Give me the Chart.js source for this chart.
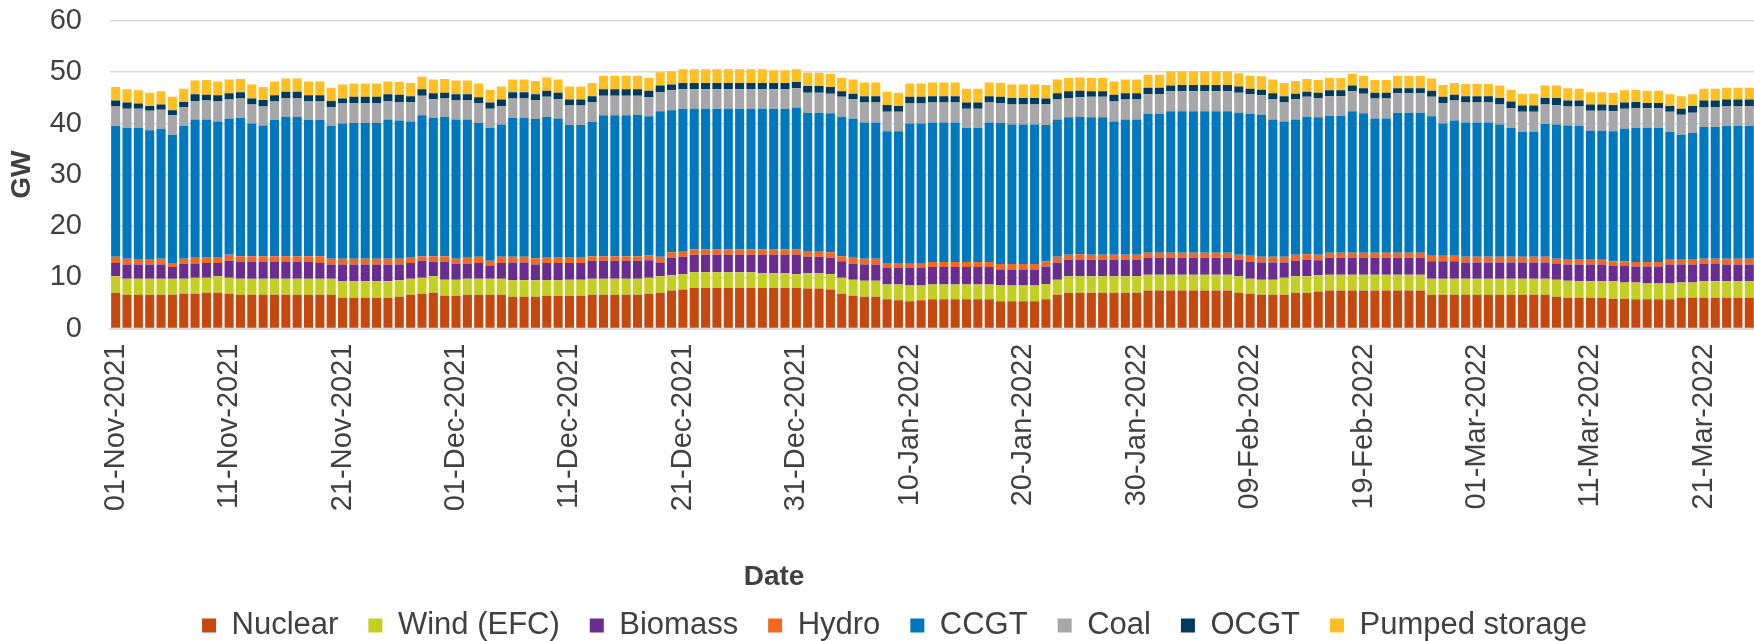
<!DOCTYPE html>
<html>
<head>
<meta charset="utf-8">
<script src="https://cdn.jsdelivr.net/npm/chart.js@4.4.1/dist/chart.umd.min.js"></script>
<style>
  html, body { margin: 0; padding: 0; overflow: hidden; background: #fff; }
  #wrap { position: absolute; left: 0; top: 0; width: 1789px; height: 651px; }
</style>
</head>
<body>
<div id="wrap"><canvas id="genChart" width="1789" height="651"></canvas></div>
<script>
// daily average generation by fuel, GW, 01-Nov-2021 to 25-Mar-2022
var firstDay = '2021-11-01'
var dayCount = 148 // axis runs a few days past the last visible bar

var nuclear = [
	7.0,6.6,6.6,6.6,6.6,6.6,6.8,6.8,7.0,7.0,
	6.8,6.6,6.6,6.6,6.6,6.6,6.6,6.6,6.6,6.6,
	6.0,6.0,6.0,6.0,6.0,6.2,6.6,6.8,7.0,6.4,
	6.4,6.6,6.6,6.6,6.6,6.2,6.2,6.2,6.4,6.4,
	6.4,6.4,6.6,6.6,6.6,6.6,6.6,6.8,7.0,7.4,
	7.6,7.9,7.9,7.9,7.9,7.9,7.9,7.9,7.9,7.9,
	7.9,7.8,7.8,7.6,6.8,6.4,6.2,6.2,5.7,5.5,
	5.3,5.5,5.7,5.7,5.7,5.7,5.7,5.7,5.3,5.3,
	5.3,5.3,5.7,6.6,7.0,7.0,7.0,7.0,7.0,7.0,
	7.0,7.4,7.4,7.4,7.4,7.4,7.4,7.4,7.4,7.0,
	6.8,6.6,6.6,6.6,7.0,7.0,7.2,7.4,7.4,7.4,
	7.4,7.4,7.4,7.4,7.4,7.4,6.6,6.6,6.6,6.6,
	6.6,6.6,6.6,6.6,6.6,6.6,6.6,6.2,6.0,6.0,
	6.0,6.0,5.8,5.8,5.7,5.7,5.7,5.7,6.0,6.0,
	6.0,6.0,6.0,6.0,6.0]
var wind = [
	3.2,3.1,3.1,3.1,3.1,3.1,2.9,3.1,2.9,3.2,
	3.1,3.1,3.1,3.1,3.1,3.1,3.1,3.1,3.1,3.1,
	3.2,3.2,3.2,3.2,3.2,3.2,3.1,3.1,3.2,3.1,
	3.1,3.1,3.1,3.1,3.1,3.2,3.2,3.2,3.0,3.0,
	3.1,3.1,3.1,3.1,3.1,3.1,3.1,3.1,3.2,3.0,
	3.0,3.1,3.1,3.1,3.1,3.1,3.1,2.9,2.9,2.9,
	2.7,3.0,3.0,3.0,3.1,3.1,3.1,3.1,2.9,3.1,
	3.1,2.9,2.9,2.9,2.9,2.9,2.9,2.9,3.1,3.1,
	3.1,3.1,3.0,2.9,3.2,3.2,3.2,3.2,3.2,3.2,
	3.2,3.1,3.1,3.1,3.1,3.1,3.1,3.1,3.1,3.2,
	2.9,2.9,2.9,3.3,3.2,3.2,3.2,3.1,3.1,3.1,
	3.1,3.1,3.1,3.1,3.1,3.1,3.1,3.1,3.1,3.1,
	3.1,3.1,3.1,3.1,3.1,3.1,3.1,3.3,3.3,3.2,
	3.2,3.2,3.4,3.2,3.3,3.1,3.1,3.1,3.0,3.0,
	3.2,3.2,3.2,3.2,3.2]
var biomass = [
	2.6,2.8,2.8,2.8,2.8,2.3,2.9,2.8,2.9,2.6,
	3.3,3.3,3.3,3.3,3.3,3.3,3.3,3.3,3.1,2.8,
	3.3,3.3,3.3,3.3,3.3,3.1,3.1,3.3,2.8,3.5,
	3.1,2.9,3.1,2.6,3.1,3.5,3.5,3.1,3.4,3.4,
	3.3,3.3,3.5,3.5,3.5,3.5,3.5,3.4,2.7,3.4,
	3.4,3.4,3.4,3.4,3.4,3.4,3.4,3.6,3.6,3.6,
	3.8,3.2,3.2,3.2,3.2,3.1,3.2,3.2,3.3,3.2,
	3.4,3.5,3.4,3.4,3.4,3.4,3.4,3.4,3.1,3.1,
	3.1,3.1,3.4,3.4,3.2,3.2,3.2,3.2,3.2,3.2,
	3.2,3.3,3.3,3.3,3.3,3.3,3.3,3.3,3.3,3.2,
	3.3,3.4,3.4,3.0,3.0,3.2,2.9,3.3,3.3,3.3,
	3.3,3.3,3.3,3.3,3.3,3.3,3.4,3.4,3.4,3.2,
	3.2,3.2,3.2,3.2,3.2,3.2,3.2,3.2,3.2,3.3,
	3.3,3.3,3.1,3.3,3.1,3.3,3.3,3.7,3.5,3.5,
	3.4,3.5,3.3,3.3,3.3]
var hydro = [
	1.2,1.1,0.9,0.9,1.1,0.8,1.0,1.1,1.0,1.0,
	1.2,1.1,1.1,1.1,1.1,1.1,1.1,1.1,1.3,1.1,
	1.1,1.1,1.1,1.1,1.1,1.1,1.0,0.9,1.1,1.1,
	1.0,1.2,1.2,0.9,1.2,1.1,1.1,1.2,1.0,1.0,
	1.0,1.0,0.9,0.9,0.9,0.9,0.9,1.0,1.1,1.1,
	1.0,1.0,1.0,1.0,1.0,1.0,1.0,1.0,1.0,1.0,
	1.0,1.0,1.0,1.1,1.0,1.2,1.1,1.1,0.9,1.0,
	1.0,0.9,1.0,1.0,1.0,1.0,1.0,1.0,1.1,1.1,
	1.1,1.1,1.0,1.1,1.0,1.1,1.0,1.0,1.0,1.0,
	1.0,1.0,1.0,1.0,1.0,1.0,1.0,1.0,1.0,1.0,
	1.2,1.1,1.1,1.1,1.2,1.1,1.1,1.0,1.0,1.0,
	1.0,1.0,1.0,1.0,1.0,1.0,1.1,1.1,1.1,1.1,
	1.1,1.1,1.1,1.1,1.1,1.1,1.1,0.9,0.9,0.9,
	0.9,0.9,0.8,0.8,0.9,0.9,0.9,0.9,0.9,0.9,
	1.0,0.9,1.1,1.1,1.1]
var ccgt = [
	25.5,25.5,25.7,25.3,25.4,25.0,25.9,27.0,27.0,26.6,
	26.6,27.0,25.9,25.5,26.6,27.2,27.2,26.6,26.6,25.9,
	26.4,26.5,26.5,26.5,27.2,27.0,26.6,27.5,27.0,27.2,
	27.2,27.0,26.1,25.9,25.8,27.1,27.1,27.2,27.5,27.2,
	25.9,25.9,26.2,27.5,27.5,27.5,27.6,27.1,28.4,27.7,
	27.9,27.5,27.5,27.5,27.5,27.5,27.5,27.5,27.5,27.5,
	27.7,27.1,27.1,27.1,27.2,27.2,26.6,26.6,25.7,25.7,
	27.2,27.2,27.2,27.2,27.2,26.1,26.1,27.2,27.5,27.2,
	27.2,27.2,26.6,26.8,26.8,26.8,26.8,26.8,26.0,26.4,
	26.4,27.1,27.1,27.6,27.6,27.6,27.6,27.6,27.6,27.7,
	27.7,27.7,26.8,26.4,26.4,26.8,26.8,26.7,26.7,27.6,
	27.2,26.2,26.2,27.3,27.3,27.3,27.2,25.8,26.4,26.2,
	26.2,26.2,25.8,25.1,24.4,24.4,25.9,26.2,26.2,26.1,
	25.2,25.2,25.4,25.9,26.1,26.1,26.1,25.0,24.4,24.8,
	25.7,25.7,25.9,25.9,25.9]
var coal = [
	3.8,3.8,3.8,3.8,3.7,3.8,3.7,3.6,3.7,3.9,
	3.7,3.8,3.7,3.7,3.6,3.7,3.7,3.6,3.6,3.7,
	3.9,3.9,3.9,3.9,3.6,3.6,3.8,3.8,3.7,3.6,
	3.7,3.7,3.9,3.8,3.6,3.8,3.8,3.7,3.9,3.8,
	3.8,3.8,3.8,3.8,3.8,3.8,3.7,3.7,3.7,3.9,
	3.8,3.8,3.8,3.8,3.8,3.8,3.8,3.8,3.8,3.8,
	3.8,3.9,3.9,3.8,3.9,3.8,3.9,3.9,3.8,3.8,
	3.9,3.9,3.9,3.9,3.9,3.8,3.8,3.9,3.9,3.9,
	3.9,3.9,4.1,3.9,3.8,3.8,4.0,4.0,3.9,3.9,
	3.9,3.8,3.8,3.9,3.9,3.9,3.9,3.9,3.9,3.9,
	3.8,3.8,3.9,3.8,4.0,3.9,3.8,3.8,3.8,3.9,
	3.8,3.9,3.9,3.8,3.8,3.8,3.8,4.0,3.9,3.9,
	3.9,3.9,3.9,3.9,3.9,3.9,3.8,3.8,3.7,3.8,
	3.9,3.9,3.9,3.9,3.9,3.9,3.9,3.9,3.9,3.9,
	3.9,3.9,3.9,3.9,3.9]
var ocgt = [
	1.2,1.2,1.0,0.9,1.0,1.0,1.0,1.3,1.1,1.2,
	1.2,1.2,1.2,1.3,1.2,1.2,1.2,1.2,1.2,1.2,
	1.0,1.2,1.2,1.2,1.3,1.4,1.1,1.3,1.1,1.1,
	1.2,1.2,1.1,1.2,1.3,1.2,1.2,1.1,1.2,1.2,
	1.2,1.2,1.2,1.3,1.3,1.3,1.3,1.3,1.3,1.1,
	1.2,1.2,1.2,1.2,1.2,1.2,1.2,1.2,1.2,1.2,
	1.2,1.3,1.3,1.3,1.1,1.0,1.2,1.2,1.3,1.1,
	1.3,1.3,1.2,1.2,1.2,1.2,1.2,1.2,1.2,1.3,
	1.3,1.3,1.1,1.2,1.3,1.3,1.1,1.1,1.3,1.2,
	1.2,1.3,1.3,1.1,1.2,1.2,1.2,1.2,1.2,1.2,
	1.1,1.1,1.2,1.1,1.0,1.0,1.0,1.2,1.2,1.1,
	1.1,1.1,1.1,1.0,1.0,1.0,1.2,1.2,1.1,1.2,
	1.2,1.2,1.3,1.3,1.2,1.2,1.3,1.4,1.2,1.2,
	1.2,1.2,1.2,1.2,1.2,1.0,1.0,1.1,1.2,1.3,
	1.3,1.3,1.3,1.3,1.3]
var pumped = [
	2.6,2.6,2.6,2.6,2.6,2.6,2.6,2.7,2.9,2.7,
	2.7,2.6,2.7,2.5,2.7,2.6,2.6,2.7,2.7,2.6,
	2.7,2.6,2.6,2.6,2.5,2.5,2.6,2.4,2.7,2.7,
	2.7,2.7,2.7,2.5,2.5,2.5,2.5,2.6,2.6,2.6,
	2.5,2.5,2.6,2.6,2.6,2.6,2.6,2.5,2.6,2.6,
	2.7,2.7,2.7,2.7,2.7,2.7,2.7,2.7,2.5,2.5,
	2.5,2.6,2.6,2.6,2.6,2.8,2.7,2.7,2.6,2.6,
	2.6,2.6,2.7,2.7,2.7,2.7,2.7,2.7,2.7,2.6,
	2.6,2.6,2.6,2.7,2.6,2.6,2.6,2.6,2.6,2.7,
	2.7,2.5,2.5,2.8,2.7,2.7,2.7,2.7,2.7,2.6,
	2.5,2.6,2.7,2.6,2.5,2.5,2.5,2.4,2.4,2.3,
	2.4,2.5,2.5,2.4,2.4,2.4,2.4,2.3,2.3,2.4,
	2.4,2.4,2.4,2.3,2.3,2.3,2.4,2.4,2.4,2.3,
	2.4,2.4,2.4,2.4,2.4,2.4,2.4,2.3,2.4,2.3,
	2.3,2.3,2.3,2.3,2.3]

var fuelNames = ['Nuclear', 'Wind (EFC)', 'Biomass', 'Hydro', 'CCGT', 'Coal', 'OCGT', 'Pumped storage']
var fuelColours = ['#c5480e', '#c3d021', '#6a2c91', '#f26722', '#0078bf', '#a7a7a9', '#003a5d', '#ffbe22']
var yTicks = [0, 10, 20, 30, 40, 50, 60]

// date labels dd-Mon-yyyy
var months = ['Jan','Feb','Mar','Apr','May','Jun','Jul','Aug','Sep','Oct','Nov','Dec']
var dates = []
var d0 = new Date(firstDay + 'T00:00:00Z')
for (var i = 0; i < dayCount; i++) {
	var d = new Date(d0.getTime() + i * 86400000)
	var dd = ('0' + d.getUTCDate()).slice(-2)
	dates.push(dd + '-' + months[d.getUTCMonth()] + '-' + d.getUTCFullYear())
}

var series = [nuclear, wind, biomass, hydro, ccgt, coal, ocgt, pumped]
var datasets = series.map(function (values, i) {
	return {
		label: fuelNames[i],
		data: values,
		backgroundColor: fuelColours[i],
		borderWidth: 0,
		barPercentage: 0.8,
		categoryPercentage: 1
	}
})

Chart.defaults.font.family = '"Liberation Sans", Arial, sans-serif'
Chart.defaults.color = '#404040'

// x axis title sits left of centre in the original
var dateTitle = {
	id: 'dateTitle',
	afterDraw: function (chart) {
		var ctx = chart.ctx
		ctx.save()
		ctx.font = 'bold 28px "Liberation Sans", Arial, sans-serif'
		ctx.fillStyle = '#404040'
		ctx.textAlign = 'center'
		ctx.textBaseline = 'middle'
		ctx.fillText('Date', 774, 577)
		ctx.restore()
	}
}

var ctx = document.getElementById('genChart').getContext('2d')
var myChart = new Chart(ctx, {
	type: 'bar',
	data: {
		labels: dates,
		datasets: datasets
	},
	plugins: [dateTitle],
	options: {
		responsive: false,
		animation: false,
		devicePixelRatio: 1,
		layout: { padding: { top: 21, left: 0, right: 0, bottom: 0 } },
		plugins: {
			tooltip: { enabled: false },
			legend: {
				position: 'bottom',
				labels: {
					font: { size: 31 },
					color: '#404040',
					boxWidth: 14,
					boxHeight: 14,
					padding: 30
				}
			}
		},
		scales: {
			x: {
				stacked: true,
				grid: { display: false },
				border: { display: true, color: '#d9d9d9', width: 2 },
				ticks: {
					autoSkip: false,
					minRotation: 90,
					maxRotation: 90,
					padding: 7,
					font: { size: 29 },
					color: '#404040',
					callback: function (val, idx) {
						return idx % 10 === 0 ? dates[idx] : ''
					}
				},
				afterFit: function (scale) {
					scale.height = 251.5
					scale.paddingLeft = 0
					scale.paddingRight = 0
				}
			},
			y: {
				stacked: true,
				min: 0,
				max: 60,
				afterBuildTicks: function (scale) {
					scale.ticks = yTicks.map(function (v) { return { value: v } })
				},
				grid: { color: '#d9d9d9', lineWidth: 1.5, drawTicks: false },
				border: { display: false },
				ticks: {
					padding: 28,
					font: { size: 29 },
					color: '#404040'
				},
				title: {
					display: true,
					text: 'GW',
					font: { size: 28, weight: 'bold' },
					color: '#404040',
					padding: { top: 5, bottom: 0 }
				},
				afterFit: function (scale) {
					scale.width = 110
					scale.paddingTop = 0
					scale.paddingBottom = 0
				}
			}
		}
	}
})
</script>
</body>
</html>
